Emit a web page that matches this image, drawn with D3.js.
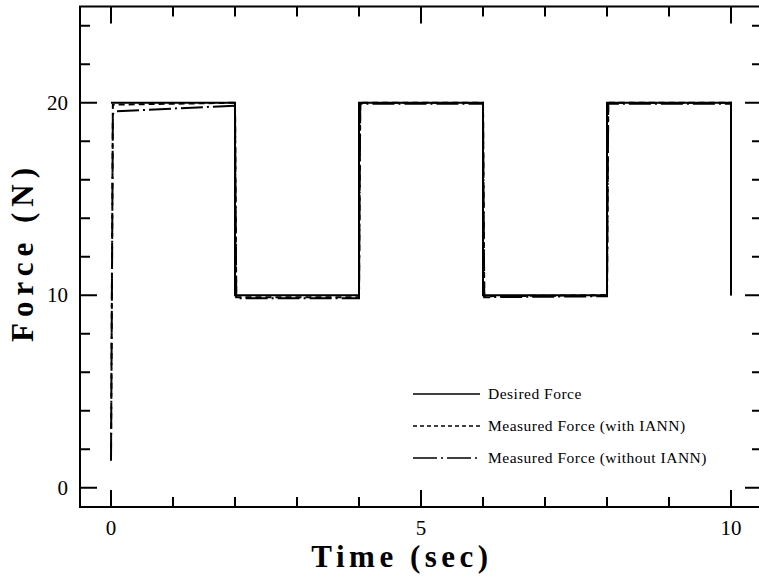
<!DOCTYPE html>
<html>
<head>
<meta charset="utf-8">
<script src="https://cdn.jsdelivr.net/npm/d3@7"></script>
<style>
body{margin:0;background:#fff;overflow:hidden;}
svg{display:block;font-family:"Liberation Serif","Times New Roman",serif;}
</style>
</head>
<body>
<script>
var WIDTH = 759, HEIGHT = 580;

// data
var desiredT   = [0, 2, 2, 4, 4, 6, 6, 8, 8, 10, 10];
var desiredF   = [20, 20, 10, 10, 20, 20, 10, 10, 20, 20, 10];
var withT      = [0, 0.03, 2, 2.02, 4, 4.02, 6, 6.02, 8, 8.02, 10, 10];
var withF      = [1.5, 19.9, 20, 9.9, 9.9, 20, 20, 9.95, 10, 20, 20, 10];
var withoutT   = [0, 0.03, 0.07, 1, 2, 2.02, 4, 4.02, 6, 6.02, 8, 8.02, 10, 10];
var withoutF   = [1.4, 19.4, 19.55, 19.7, 19.85, 9.85, 9.85, 19.95, 19.95, 9.9, 9.95, 19.95, 19.95, 10];
var xTicks     = [0,1,2,3,4,5,6,7,8,9,10];
var xLabels    = [0, 5, 10];
var yTicks     = [0,2,4,6,8,10,12,14,16,18,20,22,24];
var yLabels    = [0, 10, 20];
var legendText = ["Desired Force", "Measured Force (with IANN)", "Measured Force (without IANN)"];

var _x = d3.scaleLinear().domain([-0.5, 10.5]).range([80, 762]);
var _y = d3.scaleLinear().domain([-1, 25]).range([507, 6.5]);

var svg = d3.select('body').append('svg')
	.attr('width', WIDTH)
	.attr('height', HEIGHT);

var x0 = _x.range()[0], x1 = _x.range()[1], y0 = _y.range()[0], y1 = _y.range()[1];

// frame
svg.append('rect')
	.attr('x', x0).attr('y', y1)
	.attr('width', x1 - x0 + 2).attr('height', y0 - y1)
	.attr('fill', 'none').attr('stroke', '#000').attr('stroke-width', 2);

var tickLen = function(major){ return major ? 17 : 10; };

// ticks on all four sides, pointing in
var tg = svg.append('g').attr('stroke', '#000').attr('stroke-width', 2);
xTicks.forEach(function(t){
	var big = xLabels.indexOf(t) >= 0;
	tg.append('line').attr('x1', _x(t)).attr('x2', _x(t)).attr('y1', y0).attr('y2', y0 - tickLen(big));
	tg.append('line').attr('x1', _x(t)).attr('x2', _x(t)).attr('y1', y1).attr('y2', y1 + tickLen(big));
});
yTicks.forEach(function(t){
	var big = yLabels.indexOf(t) >= 0;
	tg.append('line').attr('y1', _y(t)).attr('y2', _y(t)).attr('x1', x0).attr('x2', x0 + tickLen(big));
	tg.append('line').attr('y1', _y(t)).attr('y2', _y(t)).attr('x1', x1).attr('x2', x1 - tickLen(big));
});

svg.selectAll('.xl').data(xLabels).enter().append('text')
	.attr('x', function(d){return _x(d)}).attr('y', 535)
	.attr('text-anchor', 'middle').attr('font-size', 21)
	.text(function(d){return d});

svg.selectAll('.yl').data(yLabels).enter().append('text')
	.attr('x', 68).attr('y', function(d){return _y(d) + 7})
	.attr('text-anchor', 'end').attr('font-size', 21)
	.text(function(d){return d});

svg.append('text')
	.attr('x', 402).attr('y', 567)
	.attr('text-anchor', 'middle').attr('font-size', 31).attr('font-weight', 'bold')
	.attr('letter-spacing', 4.5)
	.text('Time  (sec)');

svg.append('text')
	.attr('transform', 'translate(33,252) rotate(-90)')
	.attr('text-anchor', 'middle').attr('font-size', 31).attr('font-weight', 'bold')
	.attr('letter-spacing', 6)
	.text('Force  (N)');

// series
var line = d3.line().x(function(d){return _x(d[0])}).y(function(d){return _y(d[1])});
var series = [
	{t: desiredT, f: desiredF, dash: null},
	{t: withT, f: withF, dash: '6,4'},
	{t: withoutT, f: withoutF, dash: '22,4,2,4'}
];
series.forEach(function(s){
	svg.append('path')
		.datum(s.t.map(function(t, i){return [t, s.f[i]]}))
		.attr('d', line)
		.attr('fill', 'none').attr('stroke', '#000').attr('stroke-width', 2)
		.attr('stroke-dasharray', s.dash);
});

// legend
var lg = svg.append('g');
series.forEach(function(s, i){
	var yy = 394 + i * 32;
	lg.append('line').attr('x1', 413).attr('x2', 480).attr('y1', yy).attr('y2', yy)
		.attr('stroke', '#000').attr('stroke-width', 1.5)
		.attr('stroke-dasharray', i == 1 ? '4,3' : (i == 2 ? '24,4,2,4' : null));
	lg.append('text').attr('x', 488).attr('y', yy + 5)
		.attr('font-size', 15.5).attr('letter-spacing', 0.5)
		.text(legendText[i]);
});
</script>
</body>
</html>
